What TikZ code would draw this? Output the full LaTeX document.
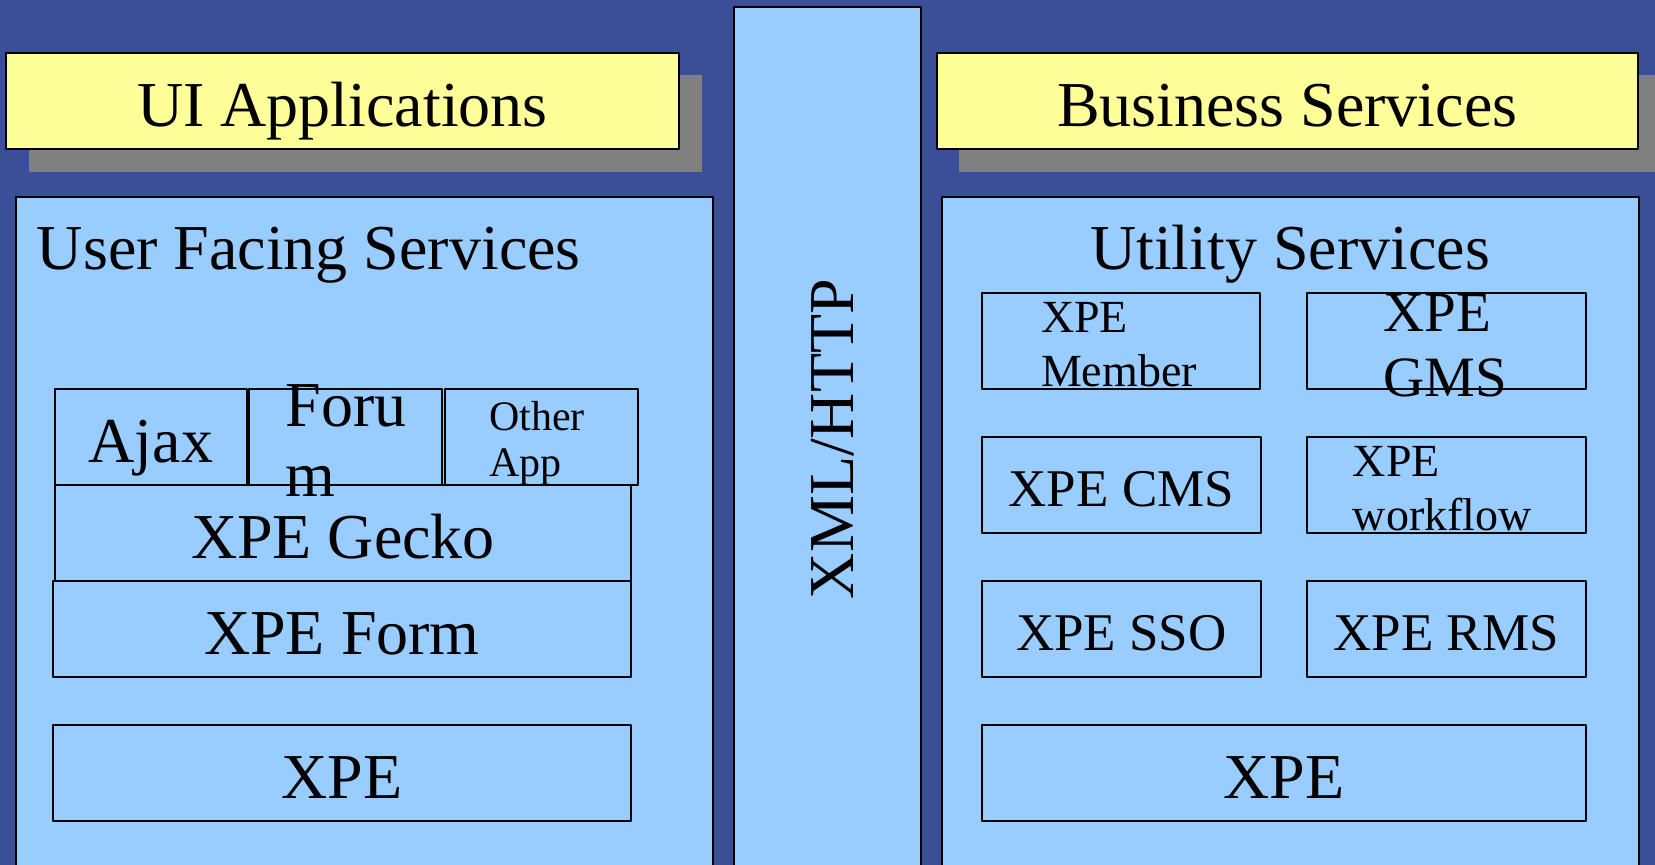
\documentclass[tikz,border=0pt]{standalone}
\usepackage{fontspec}
\setmainfont{Liberation Serif}
\usepackage{tikz}

\definecolor{bgblue}{RGB}{58,79,152}
\definecolor{paleblue}{RGB}{153,204,255}
\definecolor{paleyellow}{RGB}{255,255,153}
\definecolor{shadowgray}{RGB}{128,128,128}

\newcommand{\xpexl}{\fontsize{64bp}{70bp}\selectfont}
\newcommand{\xpel}{\fontsize{57bp}{63bp}\selectfont}
\newcommand{\xpem}{\fontsize{53bp}{58bp}\selectfont}
\newcommand{\xpes}{\fontsize{46bp}{50bp}\selectfont}
\newcommand{\xpexs}{\fontsize{42bp}{46bp}\selectfont}

\begin{document}
\begin{tikzpicture}[line join=bevel,
  svcbox/.style={draw=black,line width=2bp,fill=paleblue,inner sep=0pt,minimum height=96bp},
  titlebox/.style={draw=black,line width=2bp,fill=paleyellow,inner sep=0pt,minimum height=96bp},
  shadowbox/.style={fill=shadowgray,inner sep=0pt,minimum height=97bp},
  txtxl/.style={font=\xpexl,text height=51.2bp,text depth=0bp},
  txtm/.style={font=\xpem,text height=42.4bp,text depth=0bp},
  linetxt/.style={anchor=base west,inner sep=0pt},
  ]
%%
\useasboundingbox (0bp,0bp) rectangle (1655bp,-865bp);
\clip (0bp,0bp) rectangle (1655bp,-865bp);
\fill[bgblue] (0bp,0bp) rectangle (1655bp,-865bp);
%% left side
\node (ui_shadow) at (365.25bp,-123.5bp) [shadowbox,minimum width=673.5bp] {};
\node (ui_app) at (342.5bp,-101bp) [titlebox,txtxl,minimum width=673bp] {UI Applications};
\node (user_svc) at (364.25bp,-548.5bp) [svcbox,minimum width=696.5bp,minimum height=703bp] {};
\node (user_svc_t) at (36.7bp,-269bp) [linetxt,font=\xpexl] {User Facing Services};
\node (ajax) at (150.8bp,-436.85bp) [svcbox,txtxl,minimum width=191.6bp] {Ajax};
\node (forum) at (345.35bp,-436.85bp) [svcbox,minimum width=192.7bp] {};
\node (other) at (541.5bp,-436.85bp) [svcbox,minimum width=193bp] {};
\node (gecko) at (343bp,-532.85bp) [svcbox,txtxl,minimum width=576bp] {XPE Gecko};
\node (form) at (342bp,-628.7bp) [svcbox,txtxl,minimum width=578bp] {XPE Form};
\node (xpe_l) at (342bp,-773bp) [svcbox,txtxl,minimum width=578bp] {XPE};
% texts that run over the boxes below
\node (forum_t1) at (285.6bp,-426.7bp) [linetxt,font=\xpexl] {Foru};
\node (forum_t2) at (285.6bp,-496.7bp) [linetxt,font=\xpexl] {m};
\node (other_t1) at (489bp,-430bp) [linetxt,font=\xpexs] {Other};
\node (other_t2) at (489bp,-476.7bp) [linetxt,font=\xpexs] {App};
%% middle
\node (xml) at (827.25bp,-453.5bp) [svcbox,minimum width=186.5bp,minimum height=893bp] {};
\node (xml_t) at (853bp,-439bp) [anchor=base,inner sep=0pt,rotate=90,font=\xpexl] {XML/HTTP};
%% right side
\node (biz_shadow) at (1309.25bp,-123.5bp) [shadowbox,minimum width=701.5bp] {};
\node (biz) at (1287.25bp,-101bp) [titlebox,txtxl,minimum width=701.5bp] {Business Services};
\node (util) at (1290.5bp,-548.5bp) [svcbox,minimum width=697bp,minimum height=703bp] {};
\node (util_t) at (1290bp,-269bp) [anchor=base,inner sep=0pt,font=\xpexl] {Utility Services};
\node (member) at (1121bp,-340.7bp) [svcbox,minimum width=278bp] {};
\node (member_t1) at (1040.8bp,-332.7bp) [linetxt,font=\xpes] {XPE};
\node (member_t2) at (1040.8bp,-386.7bp) [linetxt,font=\xpes] {Member};
\node (gms) at (1446.3bp,-340.7bp) [svcbox,minimum width=278.6bp] {};
\node (gms_t1) at (1383bp,-331bp) [linetxt,font=\xpel] {XPE};
\node (gms_t2) at (1383bp,-396bp) [linetxt,font=\xpel] {GMS};
\node (cms) at (1121.3bp,-484.85bp) [svcbox,txtm,minimum width=278.6bp] {XPE CMS};
\node (workflow) at (1446.2bp,-484.85bp) [svcbox,minimum width=278.8bp] {};
\node (workflow_t1) at (1352.6bp,-476.7bp) [linetxt,font=\xpes] {XPE};
\node (workflow_t2) at (1352.6bp,-530bp) [linetxt,font=\xpes] {workflow};
\node (sso) at (1121.3bp,-629bp) [svcbox,txtm,minimum width=278.6bp] {XPE SSO};
\node (rms) at (1446.2bp,-629bp) [svcbox,txtm,minimum width=278.8bp] {XPE RMS};
\node (xpe_r) at (1283.8bp,-772.7bp) [svcbox,txtxl,minimum width=603.6bp] {XPE};
%
\end{tikzpicture}
\end{document}
